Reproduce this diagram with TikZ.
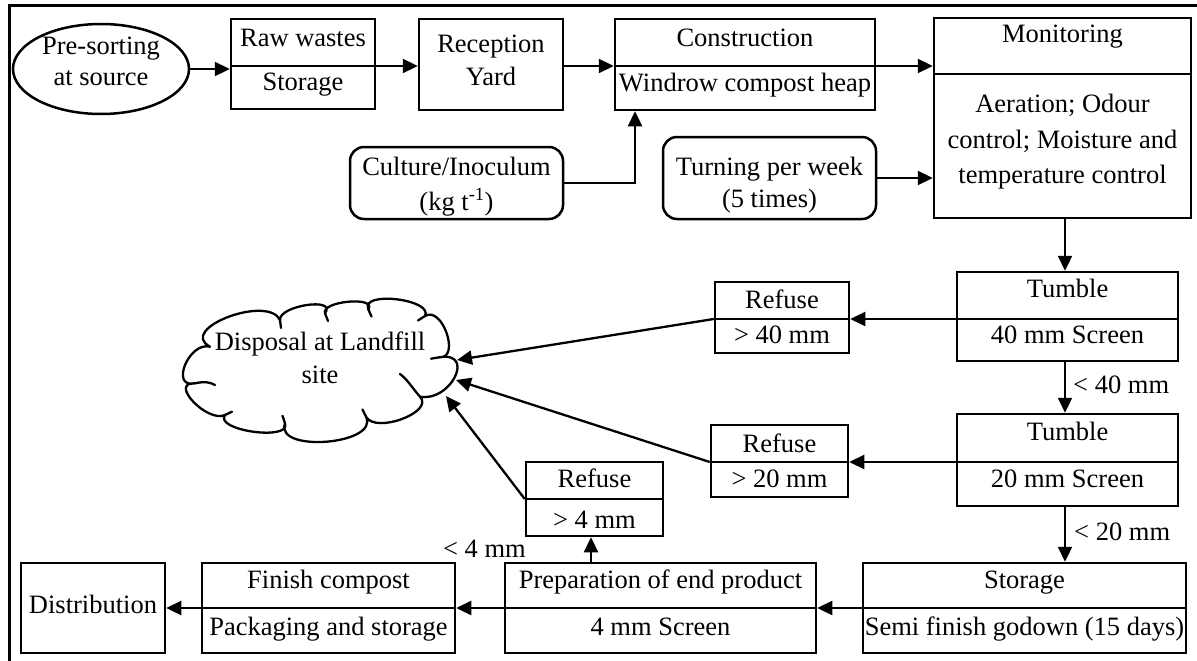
\documentclass[tikz,border=0pt]{standalone}
\usepackage{fontspec}
\setmainfont{Liberation Serif}
\usetikzlibrary{arrows.meta,shapes.geometric}
\newcommand\fs{\fontsize{26.5}{30}\selectfont}
\newcommand\bx[6][]{\node[box,#1,minimum width={#5-#3},minimum height={#6-#4}] (#2) at ({(#3+#5)/2},{(#4+#6)/2}) {};}
\newcommand\dv[2]{\draw[box] (#1.west |- 0,#2) -- (#1.east |- 0,#2);}
\newcommand\tx[4]{\node[txt] (#1) at (#2,#3) {#4};}
\tikzset{
  box/.style={draw, line width=2.5pt, inner sep=0pt},
  txt/.style={inner sep=0pt, anchor=base, font=\fs},
  arr/.style={line width=2.3pt, -{Triangle[length=15pt,width=14pt]}},
  lbl/.style={inner sep=0pt, font=\fs},
  cloudline/.style={line width=2.3pt, line join=round, line cap=round},
}
\begin{document}
\begin{tikzpicture}[x=1pt,y=-1pt]
\useasboundingbox (0,0) rectangle (1197,661);
\draw[line width=3pt] (9,661) -- (9,6) -- (1197,6);
% top row
\node[box,ellipse,minimum width=176,minimum height=90] (pre) at (101,69) {};
\tx{pre1}{101}{55}{Pre-sorting}
\tx{pre2}{101}{85}{at source}
\bx{raw}{231}{19}{375}{109}\dv{raw}{66}
\tx{raw1}{303}{47}{Raw wastes}
\tx{raw2}{303}{90}{Storage}
\bx{rec}{419}{19}{563}{110}
\tx{rec1}{491}{53}{Reception}
\tx{rec2}{491}{85}{Yard}
\bx{con}{615}{19}{875}{110}\dv{con}{66}
\tx{con1}{745}{47}{Construction}
\tx{con2}{745}{92}{Windrow compost heap}
\bx{mon}{934}{18}{1191}{218}\dv{mon}{74}
\tx{mon1}{1062.5}{43}{Monitoring}
\tx{mon2}{1062.5}{113}{Aeration; Odour}
\tx{mon3}{1062.5}{148}{control; Moisture and}
\tx{mon4}{1062.5}{183}{temperature control}
\bx[rounded corners=14pt]{cul}{350}{147}{563}{219}
\tx{cul1}{456.5}{175}{Culture/Inoculum}
\tx{cul2}{456.5}{210}{(kg t\textsuperscript{-1})}
\bx[rounded corners=14pt]{tur}{663}{137}{876}{219}
\tx{tur1}{769.5}{175}{Turning per week}
\tx{tur2}{769.5}{207}{(5 times)}
% screens
\bx{tu1}{957}{272}{1178}{361}\dv{tu1}{319}
\tx{tu1a}{1067.5}{297}{Tumble}
\tx{tu1b}{1067.5}{343}{40 mm Screen}
\bx{rf1}{715}{282}{849}{353}\dv{rf1}{319}
\tx{rf1a}{782}{308}{Refuse}
\tx{rf1b}{782}{343}{> 40 mm}
\bx{tu2}{957}{414}{1178}{506}\dv{tu2}{462}
\tx{tu2a}{1067.5}{440}{Tumble}
\tx{tu2b}{1067.5}{487}{20 mm Screen}
\bx{rf2}{711}{425}{848}{497}\dv{rf2}{462}
\tx{rf2a}{779.5}{452}{Refuse}
\tx{rf2b}{779.5}{487}{> 20 mm}
\bx{rf3}{526}{462}{663}{536}\dv{rf3}{499}
\tx{rf3a}{594.5}{487}{Refuse}
\tx{rf3b}{594.5}{528}{> 4 mm}
% bottom row
\bx{sto}{863}{563}{1186}{653}\dv{sto}{608}
\tx{sto1}{1024.5}{588}{Storage}
\tx{sto2}{1024.5}{635}{Semi finish godown (15 days)}
\bx{prp}{505}{563}{816}{653}\dv{prp}{608}
\tx{prp1}{660.5}{588}{Preparation of end product}
\tx{prp2}{660.5}{635}{4 mm Screen}
\bx{fin}{202}{563}{455}{653}\dv{fin}{608}
\tx{fin1}{328.5}{588}{Finish compost}
\tx{fin2}{328.5}{635}{Packaging and storage}
\bx{dis}{21}{563}{165}{653}
\tx{dis1}{93}{613}{Distribution}
% cloud
\node[inner sep=0pt,minimum width=271,minimum height=142] (land) at (320.5,370) {};
\draw[cloudline] (210,346.7)
  .. controls (176.8,328.9) and (267.8,294.2) .. (280,320)
  .. controls (278.85,305.5) and (337.35,296.8) .. (325,313.3)
  .. controls (320.7,301.1) and (377,295.9) .. (368.3,309.3)
  .. controls (359.9,290.5) and (433.6,299.2) .. (425,316)
  .. controls (442.3,305.3) and (460.8,359) .. (439.3,357.3)
  .. controls (476,351) and (450.9,402.2) .. (420,396.7)
  .. controls (434.7,412.1) and (375.3,434.1) .. (366,416.7)
  .. controls (379.8,444.6) and (274.4,453.2) .. (285,423.3)
  .. controls (291.7,441.3) and (213.7,430.5) .. (225,415)
  .. controls (207.2,423.2) and (168.2,382) .. (195,383.3)
  .. controls (169.5,388.8) and (188.9,341.2) .. (210,346.7) -- cycle;
\draw[cloudline] (195,383.3) .. controls (204,381.4) and (210,382) .. (215,385);
\draw[cloudline] (420,396.7) .. controls (413,389) and (408,380) .. (400,374);
\draw[cloudline] (280,320) -- (281,328);
\draw[cloudline] (325,313.3) -- (328,321);
\draw[cloudline] (368.3,309.3) -- (371.5,316.5);
\draw[cloudline] (425,316) -- (418,320.5);
\draw[cloudline] (439.3,357.3) -- (431,358.7);
\draw[cloudline] (366,416.7) -- (362.5,409.5);
\draw[cloudline] (285,423.3) -- (282.5,415.8);
\draw[cloudline] (225,415) -- (232,411.7);
\tx{land1}{320}{350}{Disposal at Landfill}
\tx{land2}{320}{383}{site}
\coordinate (c1) at (457,360);
\coordinate (c2) at (456,380);
\coordinate (c3) at (446,396);
% labels
\node[lbl,anchor=base west] (l40) at (1073,393) {< 40 mm};
\node[lbl,anchor=base west] (l20) at (1074,540) {< 20 mm};
\node[lbl,anchor=base east] (l4) at (526,557) {< 4 mm};
% connectors
\draw[arr] (pre.east) -- (pre.east -| raw.west);
\draw[arr] (raw.east |- 0,66) -- (rec.west |- 0,66);
\draw[arr] (rec.east |- 0,66) -- (con.west |- 0,66);
\draw[arr] (con.east |- 0,66) -- (mon.west |- 0,66);
\draw[arr] (cul.east) -| (con.south -| 635,0);
\draw[arr] (tur.east) -- (tur.east -| mon.west);
\draw[arr] (mon.south -| 1065,0) -- (tu1.north -| 1065,0);
\draw[arr] (tu1.west |- 0,319) -- (rf1.east |- 0,319);
\draw[arr] (rf1.west |- 0,319) -- (c1);
\draw[arr] (tu1.south -| 1065,0) -- (tu2.north -| 1065,0);
\draw[arr] (tu2.west |- 0,462) -- (rf2.east |- 0,462);
\draw[arr] (rf2.west |- 0,462) -- (c2);
\draw[arr] (tu2.south -| 1065,0) -- (sto.north -| 1065,0);
\draw[arr] (sto.west |- 0,608) -- (prp.east |- 0,608);
\draw[arr] (prp.north -| 591,0) -- (rf3.south -| 591,0);
\draw[arr] (rf3.west |- 0,499) -- (c3);
\draw[arr] (prp.west |- 0,608) -- (fin.east |- 0,608);
\draw[arr] (fin.west |- 0,608) -- (dis.east |- 0,608);
\end{tikzpicture}
\end{document}
